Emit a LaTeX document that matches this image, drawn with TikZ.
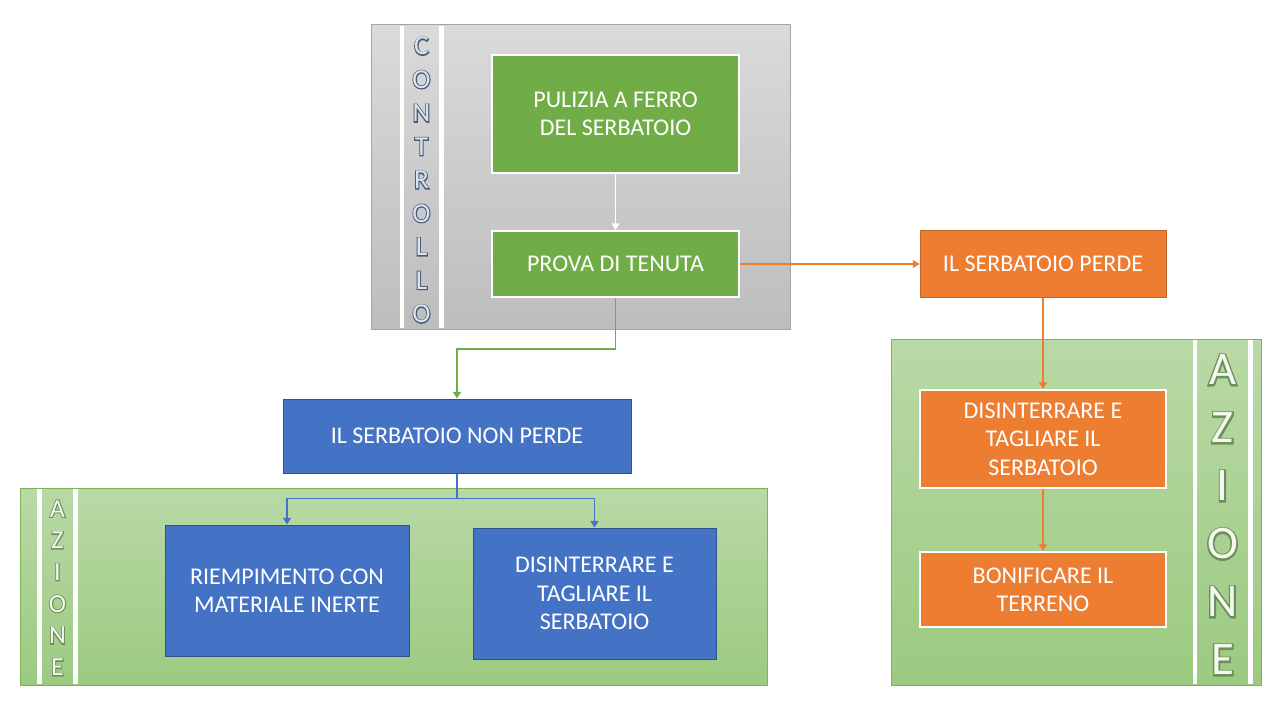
\documentclass[tikz,border=0pt]{standalone}
\usepackage{fontspec}
\setmainfont{Carlito}
\newfontfamily\olfont[FakeBold=7]{Carlito}
\usetikzlibrary{arrows.meta}
\definecolor{gfill}{HTML}{70AD47}
\definecolor{bfill}{HTML}{4472C4}
\definecolor{bline}{HTML}{2F528F}
\definecolor{ofill}{HTML}{ED7D31}
\definecolor{oline}{HTML}{C0652A}
\definecolor{ctop}{HTML}{DADADA}
\definecolor{cbot}{HTML}{BDBDBD}
\definecolor{cborder}{HTML}{A5A5A5}
\definecolor{atop}{HTML}{B9D9A6}
\definecolor{abot}{HTML}{9CCA80}
\definecolor{aborder}{HTML}{7DB35A}
\definecolor{ctrlout}{HTML}{4A5A72}
\definecolor{ctrlin}{HTML}{DAE3F3}
\definecolor{azout}{HTML}{6E8E5C}
\definecolor{azin}{HTML}{F4F9F0}
\newcommand\ctrlch[1]{\makebox[0pt]{\olfont\color{ctrlout}#1}\makebox[0pt]{\color{ctrlin}#1}}
\newcommand\azch[1]{\makebox[0pt]{\olfont\color{azout}#1}\makebox[0pt]{\color{azin}#1}}
\begin{document}
\begin{tikzpicture}[x=0.75pt,y=-0.75pt,
  box/.style={rectangle,inner sep=0pt,align=center,text=white,
    font=\fontsize{18}{21.3}\selectfont},
  gbox/.style={box,fill=gfill,draw=white,line width=1.5pt},
  bbox/.style={box,fill=bfill,draw=bline,line width=0.75pt},
  obox/.style={box,fill=ofill,draw=oline,line width=0.75pt},
  owbox/.style={box,fill=ofill,draw=white,line width=1.5pt},
  arr/.style={line width=1.1pt,-{Triangle[width=6pt,length=5pt]}},
  letters/.style={inner sep=0pt,align=center},
  panelc/.style={top color=ctop,bottom color=cbot,draw=cborder,line width=0.75pt},
  panela/.style={top color=atop,bottom color=abot,draw=aborder,line width=0.75pt},
  sep/.style={fill=white}
]
\useasboundingbox[fill=white] (0,0) rectangle (1280,720);

% CONTROLLO panel
\shadedraw[panelc] (371,25) rectangle (790,329);
\fill[sep] (400,26) rectangle (404,328);
\fill[sep] (439,26) rectangle (444,328);
\node[letters,font=\fontsize{20.5}{25.1}\selectfont] (ctrlL) at (421.5,180)
  {\ctrlch{C}\\\ctrlch{O}\\\ctrlch{N}\\\ctrlch{T}\\\ctrlch{R}\\\ctrlch{O}\\\ctrlch{L}\\\ctrlch{L}\\\ctrlch{O}};

% AZIONE left panel
\shadedraw[panela] (20,488) rectangle (767,685);
\fill[sep] (37,489) rectangle (42,684);
\fill[sep] (73,489) rectangle (78,684);
\node[letters,font=\fontsize{19.5}{23.8}\selectfont] (azL) at (57.5,588)
  {\azch{A}\\\azch{Z}\\\azch{I}\\\azch{O}\\\azch{N}\\\azch{E}};

% AZIONE right panel
\shadedraw[panela] (891,339) rectangle (1261,685);
\fill[sep] (1193,340) rectangle (1197,684);
\fill[sep] (1248,340) rectangle (1253,684);
\node[letters,font=\fontsize{35}{43.5}\selectfont] (azR) at (1222.5,515)
  {\azch{A}\\\azch{Z}\\\azch{I}\\\azch{O}\\\azch{N}\\\azch{E}};

% boxes
\node[gbox,minimum width=185.25pt,minimum height=88.5pt] (pul) at (615.5,114) {PULIZIA A FERRO\\DEL SERBATOIO};
\node[gbox,minimum width=185.25pt,minimum height=49.5pt] (prova) at (615.5,264) {PROVA DI TENUTA};
\node[obox,minimum width=184.5pt,minimum height=49.5pt] (perde) at (1043,264) {IL SERBATOIO PERDE};
\node[bbox,minimum width=261pt,minimum height=55.5pt] (nonperde) at (457,436) {IL SERBATOIO NON PERDE};
\node[bbox,minimum width=183pt,minimum height=98.25pt] (riemp) at (287,590.5) {RIEMPIMENTO CON\\MATERIALE INERTE};
\node[bbox,minimum width=182.25pt,minimum height=98.25pt] (disb) at (594.5,593.5) {DISINTERRARE E\\TAGLIARE IL\\SERBATOIO};
\node[owbox,minimum width=184.5pt,minimum height=73.5pt] (diso) at (1043,439) {DISINTERRARE E\\TAGLIARE IL\\SERBATOIO};
\node[owbox,minimum width=184.5pt,minimum height=56.25pt] (bon) at (1043,589.5) {BONIFICARE IL\\TERRENO};

% connectors
\draw[arr,white] (pul) -- (prova);
\draw[arr,ofill] (prova) -- (perde);
\draw[arr,gfill] (prova.south) -- ++(0,51) -| (nonperde.north);
\draw[arr,bfill] (nonperde.south) -- ++(0,25) -| (riemp.north);
\draw[arr,bfill] (nonperde.south) -- ++(0,25) -| (disb.north);
\draw[arr,ofill] (perde) -- (diso);
\draw[arr,ofill] (diso) -- (bon);
\end{tikzpicture}
\end{document}
